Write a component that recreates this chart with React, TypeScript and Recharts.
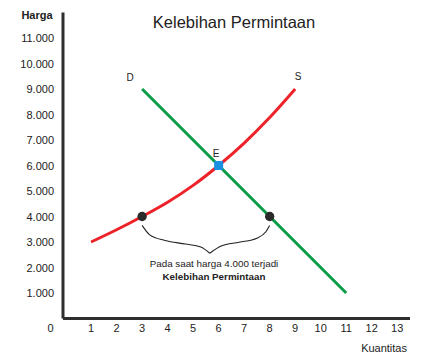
import React from 'react'
import {
  ComposedChart,
  Line,
  Scatter,
  XAxis,
  YAxis,
  Customized,
} from 'recharts'

// Kurva permintaan (D) dan penawaran (S)
const demandData = [
  { q: 3, p: 9000 },
  { q: 6, p: 6000 },
  { q: 8, p: 4000 },
  { q: 11, p: 1000 },
]

const supplyData = [
  { q: 1, p: 3000 },
  { q: 2, p: 3480 },
  { q: 3, p: 4000 },
  { q: 4, p: 4560 },
  { q: 5, p: 5220 },
  { q: 6, p: 6000 },
  { q: 7, p: 6880 },
  { q: 8, p: 7880 },
  { q: 9, p: 9000 },
]

// titik pada harga 4.000 dan titik keseimbangan E
const excessPoints = [
  { q: 3, p: 4000 },
  { q: 8, p: 4000 },
]
const equilibrium = [{ q: 6, p: 6000 }]

// kurung kurawal di bawah titik
const braceLeft = [
  { q: 3.0, p: 3650 },
  { q: 3.3, p: 3280 },
  { q: 3.9, p: 3060 },
  { q: 4.7, p: 2920 },
  { q: 5.3, p: 2800 },
  { q: 5.65, p: 2560 },
]
const braceRight = [
  { q: 5.65, p: 2560 },
  { q: 6.1, p: 2840 },
  { q: 6.8, p: 2990 },
  { q: 7.5, p: 3150 },
  { q: 7.85, p: 3400 },
  { q: 8.0, p: 3650 },
]

const xTicks = [0, 1, 2, 3, 4, 5, 6, 7, 8, 9, 10, 11, 12, 13]
const yTicks = [1000, 2000, 3000, 4000, 5000, 6000, 7000, 8000, 9000, 10000, 11000]

const FONT = '"Liberation Sans", Arial, sans-serif'
const TEXT = '#222'

const fmt = (v: number) => v.toLocaleString('de-DE')

const XTick = ({ x, y, payload }: any) => (
  <text
    x={payload.value === 0 ? x - 15 : x}
    y={y}
    dy={5}
    textAnchor="middle"
    fontSize={11}
    fill={TEXT}
    fontFamily={FONT}
  >
    {payload.value}
  </text>
)

const YTick = ({ x, y, payload }: any) => (
  <text x={54} y={y} dy={4} textAnchor="end" fontSize={11} fill={TEXT} fontFamily={FONT}>
    {fmt(payload.value)}
  </text>
)

const Annotations = () => (
  <g fontFamily={FONT} fill={TEXT}>
    <text x={234} y={28} fontSize={16.5} textAnchor="middle">
      Kelebihan Permintaan
    </text>
    <text x={37} y={19} fontSize={11} fontWeight="bold" textAnchor="middle">
      Harga
    </text>
    <text x={407} y={352} fontSize={11} textAnchor="end">
      Kuantitas
    </text>
    <text x={130} y={81} fontSize={10} textAnchor="middle">
      D
    </text>
    <text x={298} y={80} fontSize={10} textAnchor="middle">
      S
    </text>
    <text x={216} y={157} fontSize={10} textAnchor="middle">
      E
    </text>
    <text x={214} y={267} fontSize={9.8} textAnchor="middle">
      Pada saat harga 4.000 terjadi
    </text>
    <text x={214} y={280} fontSize={9.8} fontWeight="bold" textAnchor="middle">
      Kelebihan Permintaan
    </text>
  </g>
)

const RoundDot = ({ cx, cy }: any) => <circle cx={cx} cy={cy} r={4.7} fill="#2b2b2b" />
const SquareDot = ({ cx, cy }: any) => (
  <rect x={cx - 4.5} y={cy - 4.5} width={9} height={9} fill="#1b8fe0" />
)

export default function App() {
  return (
    <div style={{ position: 'absolute', left: 0, top: 0, background: '#fff' }}>
      <ComposedChart
        width={434}
        height={364}
        margin={{ top: 12.5, right: 24, left: 0, bottom: 0 }}
      >
        <XAxis
          type="number"
          dataKey="q"
          domain={[-0.1, 13.5]}
          ticks={xTicks}
          tick={<XTick />}
          tickLine={false}
          axisLine={{ stroke: '#2e2e2e', strokeWidth: 3 }}
          height={45.5}
          allowDataOverflow
        />
        <YAxis
          type="number"
          dataKey="p"
          domain={[0, 12000]}
          ticks={yTicks}
          tick={<YTick />}
          tickLine={false}
          axisLine={{ stroke: '#2e2e2e', strokeWidth: 3 }}
          width={63}
          allowDataOverflow
        />
        <Line
          data={braceLeft}
          dataKey="p"
          type="monotone"
          stroke="#222"
          strokeWidth={1.1}
          dot={false}
          isAnimationActive={false}
        />
        <Line
          data={braceRight}
          dataKey="p"
          type="monotone"
          stroke="#222"
          strokeWidth={1.1}
          dot={false}
          isAnimationActive={false}
        />
        <Line
          data={demandData}
          dataKey="p"
          type="linear"
          stroke="#0a9b47"
          strokeWidth={3}
          dot={false}
          isAnimationActive={false}
        />
        <Line
          data={supplyData}
          dataKey="p"
          type="monotone"
          stroke="#ee2229"
          strokeWidth={3}
          dot={false}
          isAnimationActive={false}
        />
        <Scatter data={excessPoints} dataKey="p" shape={<RoundDot />} isAnimationActive={false} />
        <Scatter data={equilibrium} dataKey="p" shape={<SquareDot />} isAnimationActive={false} />
        <Customized component={<Annotations />} />
      </ComposedChart>
    </div>
  )
}
